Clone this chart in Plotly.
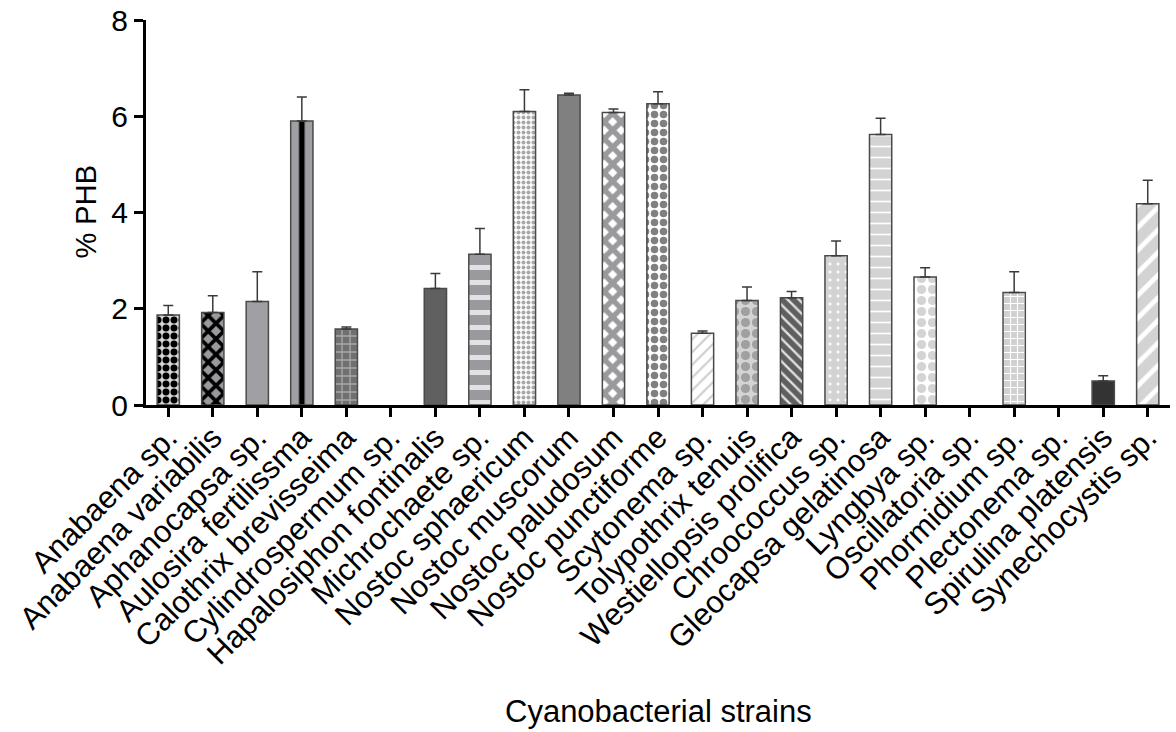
import plotly.graph_objects as go

strains = ["Anabaena sp.", "Anabaena variabilis", "Aphanocapsa sp.", "Aulosira fertilissma",
           "Calothrix brevisseima", "Cylindrospermum sp.", "Hapalosiphon fontinalis",
           "Michrochaete sp.", "Nostoc sphaericum", "Nostoc muscorum", "Nostoc paludosum",
           "Nostoc punctiforme", "Scytonema sp.", "Tolypothrix tenuis", "Westiellopsis prolifica",
           "Chroococcus sp.", "Gleocapsa gelatinosa", "Lyngbya sp.", "Oscillatoria sp.",
           "Phormidium sp.", "Plectonema sp.", "Spirulina platensis", "Synechocystis sp."]
phb = [1.87, 1.92, 2.15, 5.90, 1.58, 0, 2.42, 3.13, 6.10, 6.44, 6.08, 6.26, 1.49, 2.17,
       2.23, 3.10, 5.62, 2.66, 0, 2.34, 0, 0.50, 4.18]
sd = [0.20, 0.35, 0.62, 0.50, 0.04, 0, 0.31, 0.54, 0.45, 0.04, 0.07, 0.25, 0.05, 0.28,
      0.13, 0.31, 0.34, 0.19, 0, 0.43, 0, 0.11, 0.49]
y_ticks = [0, 2, 4, 6, 8]

W, H = 1176, 732
ML, MR, MT, MB = 146, 6, 20, 327
step = (W - ML - MR) / len(strains)

# per-bar styles: (pattern shape, fg, bg, size, solidity); solid bars use fg == bg
styles = [
    (".", "#000000", "#d4d4d4", 8, 0.6),
    ("x", "#000000", "#9a9a9e", 11, 0.55),
    ("/", "#a0a0a4", "#a0a0a4", 8, 0.3),
    ("|", "#000000", "#a0a0a4", step, 0.125),
    ("+", "#a8a8a8", "#707070", 8, 0.3),
    ("/", "#808080", "#808080", 8, 0.3),
    ("/", "#606060", "#606060", 8, 0.3),
    ("-", "#e2e2e2", "#9a9a9e", 15, 0.33),
    (".", "#a8a8a8", "#ffffff", 5, 0.5),
    ("/", "#808080", "#808080", 8, 0.3),
    ("x", "#9a9a9e", "#ffffff", 12, 0.7),
    (".", "#808080", "#ffffff", 9, 0.55),
    ("/", "#d0d0d0", "#ffffff", 9, 0.25),
    (".", "#a0a0a0", "#d4d4d4", 11, 0.55),
    ("\\", "#e0e0e0", "#5f5f5f", 8, 0.3),
    (".", "#ffffff", "#d3d3d3", 8, 0.1),
    ("-", "#ffffff", "#d3d3d3", 11, 0.15),
    (".", "#d4d4d4", "#ffffff", 11, 0.55),
    ("/", "#808080", "#808080", 8, 0.3),
    ("+", "#ffffff", "#d0d0d0", 7, 0.3),
    ("/", "#808080", "#808080", 8, 0.3),
    ("/", "#333333", "#333333", 8, 0.3),
    ("/", "#ffffff", "#d3d3d3", 16, 0.3),
]

shapes = [s[0] for s in styles]
fgs = [s[1] for s in styles]
bgs = [s[2] for s in styles]
sizes = [s[3] for s in styles]
sols = [s[4] for s in styles]

# categories with 0 (not detected) draw no bar
y_plot = [v if v > 0 else None for v in phb]

fig = go.Figure()
fig.add_trace(go.Bar(
    x=strains, y=y_plot,
    marker=dict(
        color="#808080",
        line=dict(color="#4a4a4a", width=1.5),
        pattern=dict(shape=shapes, fgcolor=fgs, bgcolor=bgs, size=sizes,
                     solidity=sols, fillmode="replace", fgopacity=1),
    ),
    error_y=dict(type="data", symmetric=False, array=sd, arrayminus=[0] * len(sd),
                 color="#3a3a3a", thickness=1.5, width=5),
    width=0.5,
))

font_family = "Liberation Sans, Arial, sans-serif"
fig.update_layout(
    width=W, height=H,
    margin=dict(l=ML, r=MR, t=MT, b=MB, autoexpand=False),
    plot_bgcolor="white", paper_bgcolor="white",
    showlegend=False,
    font=dict(family=font_family, color="black"),
    xaxis=dict(
        type="category", categoryorder="array", categoryarray=strains,
        range=[-0.5, len(strains) - 0.5], automargin=False,
        showline=True, linecolor="black", linewidth=3,
        ticks="outside", ticklen=9, tickwidth=3, tickcolor="black",
        tickangle=-45, ticklabelstandoff=-10, ticklabeloverflow="allow",
        tickfont=dict(size=31, family=font_family, color="black"),
        showgrid=False, zeroline=False,
    ),
    yaxis=dict(
        range=[0, 8], tickvals=y_ticks, ticktext=[str(v) for v in y_ticks],
        automargin=False, ticklabeloverflow="allow",
        showline=True, linecolor="black", linewidth=3,
        ticks="outside", ticklen=9, tickwidth=3, tickcolor="black",
        tickfont=dict(size=30, family=font_family, color="black"),
        showgrid=False, zeroline=False,
    ),
    annotations=[
        dict(text="Cyanobacterial strains", xref="paper", yref="paper", x=0.5, y=0,
             yshift=-306, showarrow=False, yanchor="middle",
             font=dict(size=31, family=font_family, color="black")),
        dict(text="% PHB", xref="paper", yref="paper", x=0, y=0.5, xshift=-61,
             textangle=-90, showarrow=False, xanchor="center", yanchor="middle",
             font=dict(size=29, family=font_family, color="black")),
    ],
)

fig.write_html("out.html", config={"displayModeBar": False},
               post_script="document.body.style.margin='0';")
